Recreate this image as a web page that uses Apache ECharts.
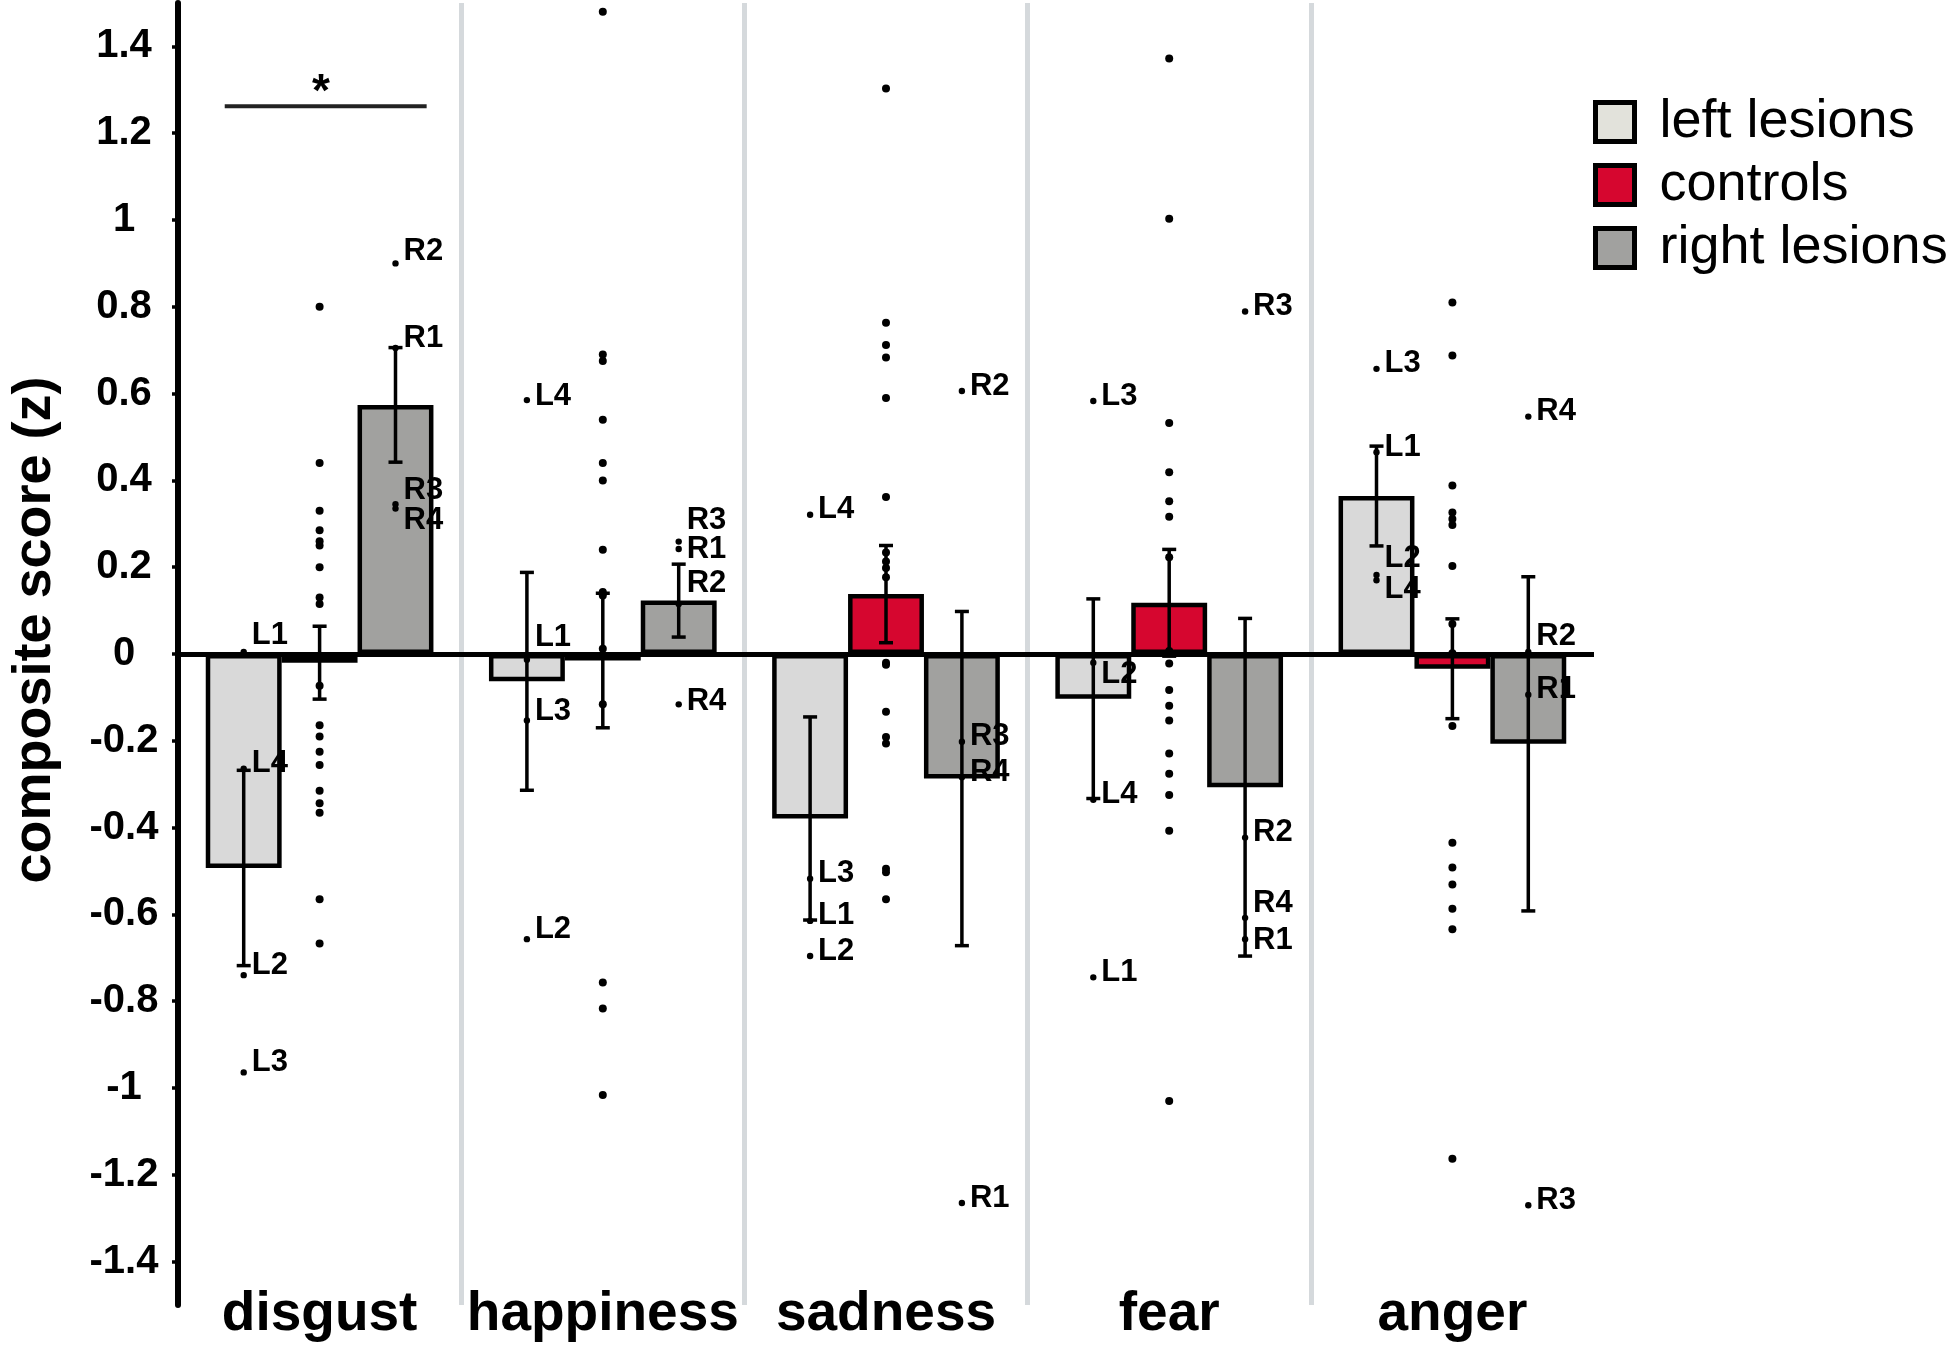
<!DOCTYPE html>
<html>
<head>
<meta charset="utf-8">
<script src="https://cdn.jsdelivr.net/npm/echarts@6/dist/echarts.min.js"></script>
<style>
  html, body { margin: 0; padding: 0; background: #fff; }
  #chart { width: 1952px; height: 1346px; }
</style>
</head>
<body>
<div id="chart"></div>
<script>
// ---------------- data ----------------
const categories = ['disgust', 'happiness', 'sadness', 'fear', 'anger'];
const groupNames = ['left lesions', 'controls', 'right lesions'];

const meanLeft    = [-0.493, -0.063, -0.379, -0.103, 0.364];
const meanControl = [-0.020, -0.015, 0.138, 0.118, -0.034];
const meanRight   = [0.574, 0.123, -0.287, -0.307, -0.207];

const seLeft    = [0.225, 0.251, 0.234, 0.230, 0.115];
const seControl = [0.084, 0.155, 0.112, 0.123, 0.115];
const seRight   = [0.132, 0.084, 0.385, 0.389, 0.385];

// individual lesion patients, one value per category
const L1 = [0.005, -0.013, -0.615, -0.745, 0.465];
const L2 = [-0.740, -0.657, -0.696, -0.020, 0.182];
const L3 = [-0.964, -0.153, -0.518, 0.583, 0.657];
const L4 = [-0.264, 0.585, 0.321, -0.336, 0.170];
const R1 = [0.705, 0.242, -1.265, -0.657, -0.094];
const R2 = [0.900, 0.115, 0.606, -0.423, 0.005];
const R3 = [0.345, 0.259, -0.202, 0.789, -1.270];
const R4 = [0.335, -0.116, -0.284, -0.608, 0.547];

// individual control subjects (visible dots)
const ctrlDisgust   = [0.80, 0.44, 0.33, 0.285, 0.26, 0.25, 0.20, 0.13, 0.115, -0.073, -0.164, -0.19, -0.225, -0.256, -0.315, -0.344, -0.366, -0.565, -0.667];
const ctrlHappiness = [1.48, 0.69, 0.675, 0.54, 0.44, 0.40, 0.24, 0.143, 0.135, 0.012, -0.116, -0.757, -0.817, -1.016];
const ctrlSadness   = [1.303, 0.763, 0.712, 0.683, 0.59, 0.362, 0.234, 0.213, 0.198, 0.177, -0.02, -0.025, -0.133, -0.191, -0.206, -0.495, -0.503, -0.565];
const ctrlFear      = [1.372, 1.003, 0.532, 0.419, 0.352, 0.316, 0.223, 0.007, -0.022, -0.083, -0.119, -0.153, -0.229, -0.276, -0.325, -0.407, -1.03];
const ctrlAnger     = [0.81, 0.688, 0.388, 0.326, 0.311, 0.297, 0.203, 0.069, 0.002, -0.166, -0.435, -0.492, -0.531, -0.587, -0.634, -1.163];

const yTickValues = [-1.4, -1.2, -1.0, -0.8, -0.6, -0.4, -0.2, 0, 0.2, 0.4, 0.6, 0.8, 1.0, 1.2, 1.4];

// significance bracket: category, height, text
const sigCategory = 'disgust';
const sigHeight = 1.262;
const sigText = '*';

// ---------------- layout / style ----------------
const FONT = '"Liberation Sans", Arial, Helvetica, sans-serif';
const BAR_FRAC = 0.268;          // bar width as fraction of category band
const colors = ['#d9d9d9', '#d6062f', '#a1a19f'];
// per-label vertical nudges (px) to avoid overlaps, like the original
const labelDy = {
  'disgust-L1': -16, 'disgust-L2': -10, 'disgust-L3': -10, 'disgust-R2': -12,
  'disgust-R1': -10, 'disgust-R3': -14, 'disgust-R4': 12,
  'happiness-L1': -22, 'happiness-L3': -9, 'happiness-L2': -10, 'happiness-L4': -4,
  'happiness-R3': -21, 'happiness-R1': 0, 'happiness-R2': -21, 'happiness-R4': -3,
  'fear-L2': 12, 'fear-R4': -14, 'fear-R1': 1,
  'anger-L2': -17, 'anger-L4': 9, 'anger-R2': -15
};
const DEFAULT_DY = -5;

// ---------------- build series data ----------------
const lesionSets = [
  ['L1', L1, -1], ['L2', L2, -1], ['L3', L3, -1], ['L4', L4, -1],
  ['R1', R1, 1], ['R2', R2, 1], ['R3', R3, 1], ['R4', R4, 1]
];
const lesionItems = [];
lesionSets.forEach(([name, arr, side]) => {
  arr.forEach((v, ci) => {
    lesionItems.push({ name, key: categories[ci] + '-' + name, value: [ci, v, side] });
  });
});

const ctrlAll = [ctrlDisgust, ctrlHappiness, ctrlSadness, ctrlFear, ctrlAnger];
const ctrlPoints = [];
ctrlAll.forEach((arr, ci) => arr.forEach(v => ctrlPoints.push([ci, v])));

const errItems = [];
[[meanLeft, seLeft, -1], [meanControl, seControl, 0], [meanRight, seRight, 1]].forEach(([m, s, side]) => {
  m.forEach((v, ci) => errItems.push([ci, v, s[ci], side]));
});

const chart = echarts.init(document.getElementById('chart'), null, { renderer: 'canvas' });

const barSeries = groupNames.map((g, i) => ({
  name: g,
  type: 'bar',
  data: [meanLeft, meanControl, meanRight][i],
  barWidth: (BAR_FRAC * 100) + '%',
  barGap: '0%',
  z: 2,
  itemStyle: { color: colors[i], borderColor: '#000', borderWidth: 4.5 },
  emphasis: { disabled: true },
  markLine: i === 1 ? {
    silent: true,
    symbol: ['none', 'none'],
    label: { show: false },
    lineStyle: { color: '#000', width: 5, type: 'solid' },
    emphasis: { disabled: true },
    data: [{ yAxis: 0 }],
    z: 6
  } : undefined
}));

const option = {
  backgroundColor: '#ffffff',
  animation: false,
  textStyle: { fontFamily: FONT },
  grid: { left: 171, right: 358, top: 3, bottom: 41, containLabel: false },
  legend: {
    orient: 'vertical',
    left: 1588,
    top: 90,
    itemWidth: 39,
    itemHeight: 39,
    itemGap: 9,
    icon: 'rect',
    selectedMode: false,
    itemStyle: { borderColor: '#000', borderWidth: 5 },
    textStyle: { fontSize: 54, color: '#000', fontFamily: FONT, padding: [0, 0, 0, 20], lineHeight: 52 },
    data: [
      { name: 'left lesions', itemStyle: { color: '#e2e2db' } },
      { name: 'controls' },
      { name: 'right lesions' }
    ]
  },
  xAxis: {
    type: 'category',
    data: categories,
    boundaryGap: true,
    axisLine: { show: false },
    axisTick: { show: false, interval: 0 },
    axisLabel: {
      interval: 0,
      fontSize: 55, fontWeight: 'bold', color: '#000', fontFamily: FONT, margin: -18
    },
    splitLine: {
      show: true, interval: 0, showMaxLine: false,
      lineStyle: { color: '#d5d9dc', width: 5 }
    }
  },
  yAxis: {
    type: 'value',
    min: -1.5,
    max: 1.5,
    name: 'composite score (z)',
    nameLocation: 'middle',
    nameRotate: 90,
    nameGap: 116,
    nameTextStyle: { fontSize: 54, fontWeight: 'bold', color: '#000', fontFamily: FONT, padding: [0, 0, 0, 48] },
    axisLine: { show: true, onZero: false, lineStyle: { color: '#000', width: 6 } },
    axisTick: { show: true, length: 6, customValues: yTickValues, lineStyle: { color: '#000', width: 3.5 } },
    axisLabel: {
      customValues: yTickValues,
      align: 'center',
      fontSize: 40, fontWeight: 'bold', color: '#000', fontFamily: FONT, margin: 54,
      formatter: v => { const r = Math.round(v * 10) / 10; return r === 0 ? '0' : String(r); }
    },
    splitLine: { show: false }
  },
  series: [
    ...barSeries,
    {
      name: 'errorbars',
      type: 'custom',
      z: 3,
      silent: true,
      data: errItems,
      encode: { x: 0, y: 1 },
      renderItem: (params, api) => {
        const ci = api.value(0), m = api.value(1), se = api.value(2), side = api.value(3);
        const band = api.size([1, 0])[0];
        const cx = api.coord([ci, m])[0] + side * band * BAR_FRAC;
        const yTop = api.coord([ci, m + se])[1];
        const yBot = api.coord([ci, m - se])[1];
        const cap = 7;
        const st = { stroke: '#000', lineWidth: 3.5 };
        return {
          type: 'group',
          children: [
            { type: 'line', shape: { x1: cx, y1: yTop, x2: cx, y2: yBot }, style: st },
            { type: 'line', shape: { x1: cx - cap, y1: yTop, x2: cx + cap, y2: yTop }, style: st },
            { type: 'line', shape: { x1: cx - cap, y1: yBot, x2: cx + cap, y2: yBot }, style: st }
          ]
        };
      }
    },
    {
      name: 'control subjects',
      type: 'scatter',
      z: 4,
      silent: true,
      symbol: 'circle',
      symbolSize: 8,
      itemStyle: { color: '#000', opacity: 1 },
      data: ctrlPoints
    },
    {
      name: 'lesion patients',
      type: 'custom',
      z: 5,
      silent: true,
      data: lesionItems.map(d => d.value),
      encode: { x: 0, y: 1 },
      renderItem: (params, api) => {
        const ci = api.value(0), v = api.value(1), side = api.value(2);
        const band = api.size([1, 0])[0];
        const c = api.coord([ci, v]);
        const x = c[0] + side * band * BAR_FRAC;
        const item = lesionItems[params.dataIndex];
        const dy = (item.key in labelDy) ? labelDy[item.key] : DEFAULT_DY;
        return {
          type: 'group',
          children: [
            { type: 'circle', shape: { cx: x, cy: c[1], r: 3.2 }, style: { fill: '#000' } },
            {
              type: 'text', x: x + 8, y: c[1] + dy,
              style: { text: item.name, fill: '#000', font: 'bold 31px ' + FONT, align: 'left', verticalAlign: 'middle' }
            }
          ]
        };
      }
    },
    {
      name: 'significance',
      type: 'custom',
      z: 5,
      silent: true,
      data: [[categories.indexOf(sigCategory), sigHeight]],
      encode: { x: 0, y: 1 },
      renderItem: (params, api) => {
        const ci = api.value(0), h = api.value(1);
        const band = api.size([1, 0])[0];
        const c = api.coord([ci, h]);
        const left = c[0] - band / 2;
        return {
          type: 'group',
          children: [
            { type: 'line', shape: { x1: left + band * 0.165, y1: c[1], x2: left + band * 0.878, y2: c[1] }, style: { stroke: '#222', lineWidth: 4 } },
            { type: 'text', x: left + band * 0.505, y: c[1] + 10, style: { text: sigText, fill: '#000', font: 'bold 46px ' + FONT, align: 'center', verticalAlign: 'bottom' } }
          ]
        };
      }
    }
  ]
};

chart.setOption(option);
</script>
</body>
</html>
